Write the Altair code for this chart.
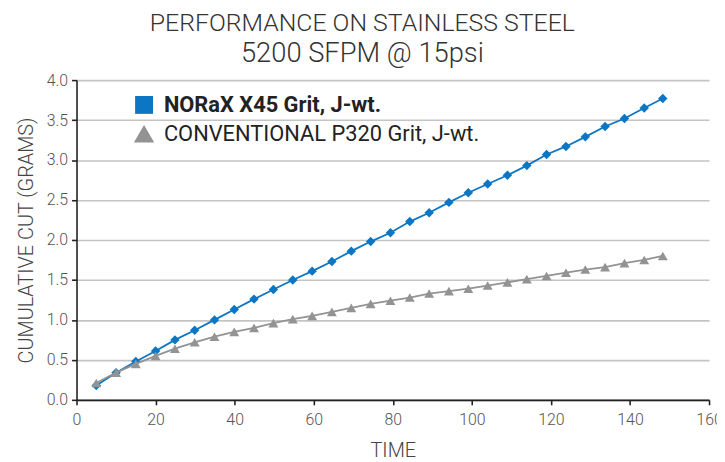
import altair as alt
import pandas as pd

time = [5.0, 10.0, 15.0, 20.0, 24.9, 29.9, 34.9, 39.9, 44.9, 49.8,
        54.7, 59.6, 64.6, 69.5, 74.4, 79.4, 84.3, 89.2, 94.2, 99.1,
        104.0, 109.0, 113.9, 118.9, 123.8, 128.7, 133.7, 138.6, 143.6, 148.3]
norax = [0.18, 0.34, 0.48, 0.61, 0.75, 0.87, 1.00, 1.13, 1.26, 1.38,
         1.50, 1.61, 1.73, 1.86, 1.98, 2.09, 2.23, 2.34, 2.47, 2.59,
         2.70, 2.81, 2.93, 3.07, 3.17, 3.29, 3.42, 3.52, 3.65, 3.77]
conventional = [0.21, 0.34, 0.45, 0.55, 0.64, 0.72, 0.79, 0.85, 0.90, 0.96,
                1.01, 1.05, 1.10, 1.15, 1.20, 1.24, 1.28, 1.33, 1.36, 1.39,
                1.43, 1.47, 1.51, 1.55, 1.59, 1.63, 1.66, 1.71, 1.75, 1.80]
series_labels = ["NORaX X45 Grit, J-wt.", "CONVENTIONAL P320 Grit, J-wt."]
colors = ["#0a76c4", "#939393"]
marker_shapes = ["diamond", "triangle-up"]
marker_sizes = [90, 100]
legend_shapes = ["square", "triangle-up"]
legend_sizes = [324, 420]
label_weights = ["bold", "normal"]

FONT = "Roboto"

x = alt.X("time:Q", title="TIME",
          scale=alt.Scale(domain=[0, 160], nice=False),
          axis=alt.Axis(values=list(range(0, 161, 20)), grid=False, labelFlush=False))
y = alt.Y("cut:Q", title="CUMULATIVE CUT (GRAMS)",
          scale=alt.Scale(domain=[0, 4], nice=False),
          axis=alt.Axis(values=[0, 0.5, 1, 1.5, 2, 2.5, 3, 3.5, 4], format=".1f",
                        grid=True))

layers = []
legend_y = [14, 43]
for i, vals in enumerate([norax, conventional]):
    d = pd.DataFrame({"time": time, "cut": vals, "label": series_labels[i]})
    line = alt.Chart(d).mark_line(strokeWidth=1.8, color=colors[i]).encode(x=x, y=y)
    pts = alt.Chart(d).mark_point(filled=True, size=marker_sizes[i], opacity=1,
                                  shape=marker_shapes[i], color=colors[i]).encode(x=x, y=y)
    # legend carrier (invisible marks; only its legend is shown)
    key = alt.Chart(d).mark_point(filled=True, opacity=0, shape=legend_shapes[i]).encode(
        x=x, y=y,
        color=alt.Color("label:N", scale=alt.Scale(range=[colors[i]]),
                        legend=alt.Legend(
                            title=None, orient="none", legendX=57, legendY=legend_y[i],
                            labelFontSize=22, labelFont=FONT, labelColor="#222222",
                            labelFontWeight=label_weights[i],
                            symbolType=legend_shapes[i],
                            symbolSize=legend_sizes[i],
                            symbolOpacity=1, symbolStrokeWidth=0,
                            labelOffset=9, labelLimit=500)),
    )
    layers.append(alt.layer(line, pts, key))

chart = alt.layer(*layers).resolve_scale(color="independent").properties(
    width=637, height=322,
    autosize=alt.AutoSizeParams(type="none"),
    title=alt.Title("PERFORMANCE ON STAINLESS STEEL",
                    subtitle="5200 SFPM @ 15psi",
                    font=FONT, fontSize=25, fontWeight=300, color="#333333",
                    subtitleFont=FONT, subtitleFontSize=27.5, subtitleFontWeight=300,
                    subtitleColor="#333333", anchor="middle", frame="bounds", offset=5,
                    dx=-7, subtitlePadding=4),
    padding={"left": 69, "top": 71, "right": 8, "bottom": 61},
).configure_view(stroke=None).configure_axis(
    labelFont=FONT, labelFontSize=16, labelFontWeight=300, labelColor="#555555",
    titleFont=FONT, titleFontSize=20, titleFontWeight=300, titleColor="#444444",
    domainColor="#222222", domainWidth=1.6, tickColor="#222222", tickWidth=1.6,
    tickSize=5, gridColor="#c4c4c4", gridWidth=1.6, labelPadding=4,
).configure_axisY(titlePadding=10).configure_axisX(titlePadding=13, labelPadding=7)

chart.save("out.html", embed_options={"renderer": "svg", "actions": False})
